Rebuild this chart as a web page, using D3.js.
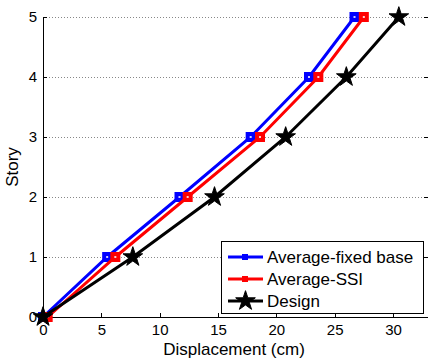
<!DOCTYPE html>
<html>
<head>
<meta charset="utf-8">
<style>
  body { margin: 0; background: #fff; }
  svg { font-family: "Liberation Sans", Arial, sans-serif; }
  .grid line { stroke: #888; stroke-dasharray: 1,2; stroke-width: 1; }
  .axis path, .axis line { stroke: #000; fill: none; shape-rendering: crispEdges; }
  .axis text { font-size: 15px; fill: #000; }
</style>
</head>
<body>
<div id="chart"></div>
<script src="https://d3js.org/d3.v7.min.js"></script>
<script>
// stories and displacements (cm)
var stories = [0, 1, 2, 3, 4, 5];
var fixedBase = [0, 5.5, 11.7, 17.8, 22.8, 26.7];
var ssi = [0.4, 6.2, 12.4, 18.6, 23.6, 27.5];
var design = [0, 7.7, 14.7, 20.8, 26.0, 30.5];
var xTicks = [0, 5, 10, 15, 20, 25, 30];
var yTicks = [0, 1, 2, 3, 4, 5];
var seriesNames = ["Average-fixed base", "Average-SSI", "Design"];

var W = 430, H = 360;
var pLeft = 43, pRight = 428, pTop = 17, pBottom = 317;

var svg = d3.select("#chart").append("svg")
  .attr("width", W).attr("height", H);

var x = d3.scaleLinear().domain([0, 33]).range([pLeft, pRight]);
var y = d3.scaleLinear().domain([0, 5]).range([pBottom, pTop]);

// horizontal dotted grid
svg.append("g").attr("class", "grid")
  .selectAll("line").data(yTicks.slice(1)).enter().append("line")
  .attr("x1", pLeft).attr("x2", pRight)
  .attr("y1", function(d) { return y(d) + 0.5; })
  .attr("y2", function(d) { return y(d) + 0.5; });

// axes with inward ticks
var xAxis = svg.append("g").attr("class", "axis")
  .attr("transform", "translate(0," + pBottom + ")")
  .call(d3.axisBottom(x).tickValues(xTicks).tickFormat(d3.format("d"))
    .tickSizeInner(-4).tickSizeOuter(0).tickPadding(7));
xAxis.select(".domain").attr("d", "M" + pLeft + ",0.5H" + pRight);

var yAxis = svg.append("g").attr("class", "axis")
  .attr("transform", "translate(" + pLeft + ",0)")
  .call(d3.axisLeft(y).tickValues(yTicks).tickFormat(d3.format("d"))
    .tickSizeInner(-4).tickSizeOuter(0).tickPadding(6));
yAxis.select(".domain").attr("d", "M0.5," + pTop + "V" + pBottom);

// right side ticks
svg.append("g").attr("class", "axis")
  .selectAll("line").data(yTicks).enter().append("line")
  .attr("x1", pRight - 4).attr("x2", pRight)
  .attr("y1", function(d) { return y(d) + 0.5; })
  .attr("y2", function(d) { return y(d) + 0.5; });

// axis labels
svg.append("text").attr("x", 234).attr("y", 355)
  .attr("text-anchor", "middle").style("font-size", "17px").text("Displacement (cm)");
svg.append("text").attr("transform", "translate(18," + ((pTop + pBottom) / 2) + ") rotate(-90)")
  .attr("text-anchor", "middle").style("font-size", "17px").text("Story");

var series = [
  { name: seriesNames[0], vals: fixedBase, color: "#0000ff", marker: "square" },
  { name: seriesNames[1], vals: ssi, color: "#ff0000", marker: "square" },
  { name: seriesNames[2], vals: design, color: "#000000", marker: "star" }
];

var line = d3.line()
  .x(function(d) { return x(d[0]); })
  .y(function(d) { return y(d[1]); });

function drawMarker(g, type, color, cx, cy) {
  if (type === "square") {
    g.append("rect")
      .attr("x", cx - 5).attr("y", cy - 5)
      .attr("width", 10).attr("height", 10)
      .attr("fill", color);
    g.append("rect")
      .attr("x", cx - 1).attr("y", cy - 1)
      .attr("width", 2).attr("height", 2)
      .attr("fill", "#fff").attr("opacity", 0.8);
  } else {
    g.append("path")
      .attr("d", d3.symbol().type(d3.symbolStar).size(120)())
      .attr("transform", "translate(" + cx + "," + cy + ")")
      .attr("fill", color).attr("stroke", color).attr("stroke-width", 1);
  }
}

series.forEach(function(s) {
  var pts = s.vals.map(function(v, i) { return [v, stories[i]]; });
  var g = svg.append("g");
  g.append("path").datum(pts)
    .attr("d", line).attr("fill", "none")
    .attr("stroke", s.color).attr("stroke-width", 3);
  pts.forEach(function(p) { drawMarker(g, s.marker, s.color, x(p[0]), y(p[1])); });
});

// legend
var lg = svg.append("g");
lg.append("rect").attr("x", 221.5).attr("y", 241.5).attr("width", 202).attr("height", 72)
  .attr("fill", "#fff").attr("stroke", "#000").attr("stroke-width", 1);
var rows = [257, 279, 301];
series.forEach(function(s, i) {
  lg.append("line").attr("x1", 228).attr("x2", 263)
    .attr("y1", rows[i]).attr("y2", rows[i])
    .attr("stroke", s.color).attr("stroke-width", 3);
  if (s.marker === "square") {
    lg.append("rect").attr("x", 242).attr("y", rows[i] - 3).attr("width", 6).attr("height", 6)
      .attr("fill", s.color);
  } else {
    drawMarker(lg, "star", s.color, 245.5, rows[i]);
  }
  lg.append("text").attr("x", 267).attr("y", rows[i] + 6)
    .style("font-size", "17px").text(s.name);
});
</script>
</body>
</html>
